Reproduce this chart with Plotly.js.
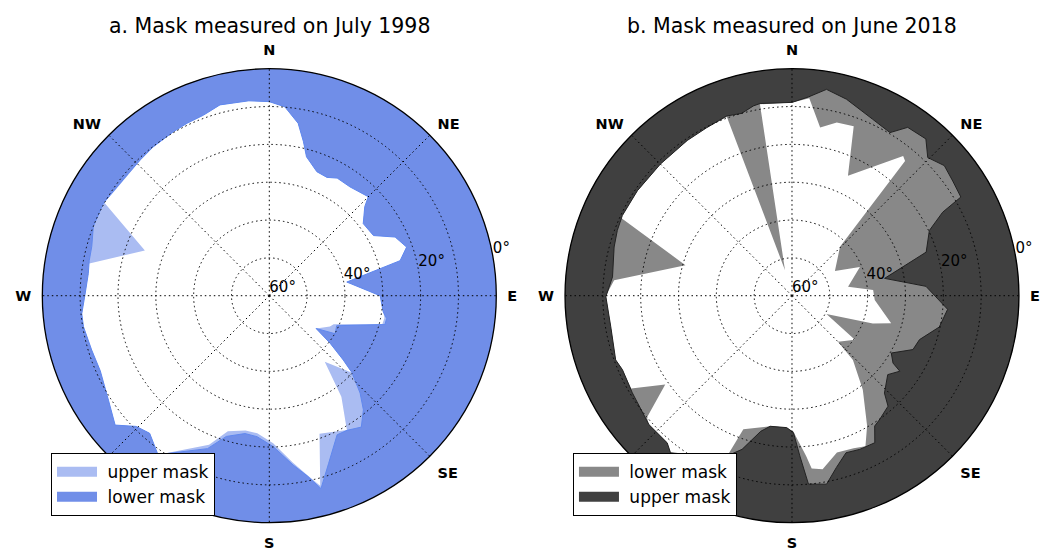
<!DOCTYPE html>
<html><head><meta charset="utf-8">
<script src="https://cdn.plot.ly/plotly-3.0.1.min.js"></script>
<style>html,body{margin:0;padding:0;background:#fff}#chart{width:1041px;height:552px}</style>
</head><body><div id="chart"></div>
<script>
// ---- Panel a: mask measured on July 1998 (azimuth deg clockwise from N, elevation deg) ----
const azA_upper = [0, 4.7, 9.5, 12.5, 15, 21, 26, 30, 36.5, 45, 47, 52.5, 60, 65, 70.5, 75, 80, 90, 98, 101, 104, 114, 117, 125, 128, 131, 133, 140, 144.5, 150, 160, 165, 168, 172, 178.5, 185, 190, 197, 202, 215, 221, 225.5, 230, 237, 246, 253, 260.5, 264.5, 270.5, 277, 280, 290, 299.5, 303, 311, 316.5, 322, 329.5, 334.5, 340, 345.5, 354];
const elA_upper = [8.7, 9.9, 13.8, 18.3, 22.0, 24.9, 25.2, 24.1, 24.2, 23.0, 25.5, 28.7, 28.2, 23.3, 21.5, 24.2, 39.2, 30.7, 29.6, 29.0, 29.2, 41.4, 42.0, 44.9, 39.6, 34.1, 30.1, 37.2, 27.2, 19.0, 21.2, 8.0, 11.5, 15.5, 21.0, 23.5, 23.8, 22.5, 17.5, 8.7, 11.8, 10.7, 6.8, 9.3, 11.1, 10.9, 10.2, 10.2, 11.3, 11.8, 11.4, 25.0, 9.8, 10.5, 10.9, 10.5, 10.1, 9.8, 9.5, 9.2, 7.9, 8.2];
const azA_lower = [0, 4.7, 9.5, 12.5, 15, 21, 26, 30, 36.5, 45, 47, 52.5, 60, 65, 70.5, 75, 80, 90, 98, 101, 104, 114, 120, 125, 128, 131, 133, 137, 140.5, 145, 150, 154, 160.5, 165, 168, 172, 178.5, 185, 190, 197, 202, 215, 221, 225.5, 230, 237, 246, 253, 260.5, 264.5, 270.5, 277, 281, 285.5, 291.5, 299, 303, 311, 316.5, 322, 329.5, 334.5, 340, 345.5, 354];
const elA_lower = [8.7, 9.9, 13.8, 18.3, 22.0, 24.9, 25.2, 24.1, 24.2, 23.0, 25.5, 28.7, 28.2, 23.3, 21.5, 24.2, 39.2, 30.7, 29.6, 28.4, 28.5, 40.5, 39.9, 44.9, 39.6, 34.1, 30.1, 24.8, 20.9, 17.6, 18.9, 19.1, 13.0, 7.2, 11.2, 14.8, 20.1, 22.6, 23.0, 21.1, 16.4, 8.7, 11.8, 10.7, 6.8, 9.3, 11.1, 10.9, 10.2, 10.2, 11.3, 11.8, 11.5, 11.3, 10.0, 9.8, 10.3, 10.7, 10.5, 10.1, 9.8, 9.5, 9.2, 7.9, 8.2];

// ---- Panel b: mask measured on June 2018 ----
const azB_lower = [0, 5, 9.5, 14.5, 20, 25, 38.5, 40, 44.5, 60, 67, 81, 86, 93, 105.5, 109, 118, 125, 135, 136.5, 143, 150, 154, 158, 164, 170, 173.5, 175, 179.5, 182.5, 189.5, 200, 202, 217.7, 220.3, 228, 230, 235, 240, 246.5, 250, 260.5, 270, 275, 286, 294.5, 304, 315, 326, 333, 340, 344.7, 350.5];
const elB_lower = [8.9, 7.6, 14.9, 12.7, 12.3, 25.0, 12.8, 13.5, 41.9, 46.9, 40.5, 45.0, 38.5, 38.1, 32.8, 37.4, 49.7, 39.7, 42.8, 36.6, 28.9, 20.3, 15.7, 16.5, 16.9, 13.4, 14.0, 17.5, 24.2, 25.1, 25.0, 22.4, 14.3, 7.5, 9.0, 9.1, 9.95, 19.1, 10.9, 11.1, 10.4, 11.4, 10.8, 12.8, 30.7, 10.2, 10.6, 10.8, 10.5, 10.2, 9.7, 53.0, 8.7];
const azB_upper = [0, 4.7, 9.5, 15.5, 24.5, 31, 34.5, 40.5, 44.5, 49.5, 54.5, 59.7, 61, 64.6, 72, 79.4, 86, 95, 102, 109, 114, 120, 123.7, 125, 129.5, 136.5, 139, 144.7, 147.6, 150.6, 156.2, 161, 165.5, 169.6, 175, 177.2, 179.4, 182.3, 189.5, 193, 198, 203, 217.7, 220.3, 228, 238.7, 246.4, 250, 260.3, 269.7, 276, 285.3, 290.5, 295.3, 304.2, 315, 326, 333, 340, 344.6, 348.5, 350.6];
const elB_upper = [8.9, 7.3, 4.7, 6.1, 8.7, 9.7, 6.0, 5.5, 8.8, 7.05, 7.8, 8.3, 14.45, 19.8, 22.7, 35.1, 24.5, 18.7, 20.2, 24.35, 25.0, 29.7, 27.9, 25.2, 27.2, 24.5, 21.3, 19.9, 19.2, 15.4, 15.6, 16.1, 13.1, 9.35, 10.0, 17.6, 23.8, 25.1, 25.0, 23.2, 17.3, 13.5, 7.5, 9.0, 9.1, 10.6, 11.1, 10.4, 11.4, 10.8, 12.3, 11.25, 10.7, 10.4, 10.6, 10.8, 10.5, 10.2, 9.45, 10.0, 8.8, 8.5];

// ---- axes / labels ----
const compassVals = [0, 45, 90, 135, 180, 225, 270, 315];
const compassText = ['N', 'NE', 'E', 'SE', 'S', 'SW', 'W', 'NW'];
const ringVals = [10, 20, 30, 40, 50];
const rLabelVals = [60, 40, 20, 0];
const rLabelText = ['60°', '40°', '20°', '0°'];
const titles = ['a. Mask measured on July 1998', 'b. Mask measured on June 2018'];

const FONT = 'DejaVu Sans, Liberation Sans, sans-serif';
const BEYOND = -3;      // elevation just below the horizon (outside the clip circle)
const RLABEL_AZ = 80;   // azimuth of the radial labels
const NB = '\u00a0';

function maskFill(az, el, color, subplot) {
  const th = az.concat([az[0] + 360, az[0] + 360]);
  const r = el.concat([el[0], BEYOND]);
  for (let i = az.length - 1; i >= 0; i--) { th.push(az[i]); r.push(BEYOND); }
  return {type: 'scatterpolar', mode: 'lines', theta: th, r: r, fill: 'toself',
    fillcolor: color, line: {width: 0, color: color}, showlegend: false,
    subplot: subplot, hoverinfo: 'skip'};
}
function maskLine(az, el, color, subplot) {
  return {type: 'scatterpolar', mode: 'lines', theta: az.concat([az[0] + 360]),
    r: el.concat([el[0]]), line: {width: 1, color: color}, showlegend: false,
    subplot: subplot, hoverinfo: 'skip'};
}
function legendEntry(name, color, subplot, legend) {
  return {type: 'scatterpolar', mode: 'lines', theta: [null], r: [null], name: NB + name,
    line: {width: 10, color: color}, subplot: subplot, legend: legend, hoverinfo: 'skip'};
}
function rLabels(subplot) {
  return {type: 'scatterpolar', mode: 'text', r: rLabelVals,
    theta: rLabelVals.map(() => RLABEL_AZ), text: rLabelText, textposition: 'top right',
    textfont: {family: FONT, size: 15, color: '#000'}, cliponaxis: false,
    showlegend: false, subplot: subplot, hoverinfo: 'skip'};
}

const colA_upper = '#aabcf2', colA_lower = '#708ee8';
const colB_lower = '#888888', colB_upper = '#404040';

const data = [
  maskFill(azA_upper, elA_upper, colA_upper, 'polar'),
  maskFill(azA_lower, elA_lower, colA_lower, 'polar'),
  maskLine(azA_lower, elA_lower, '#6088ee', 'polar'),
  legendEntry('upper mask', colA_upper, 'polar', 'legend'),
  legendEntry('lower mask', colA_lower, 'polar', 'legend'),
  rLabels('polar2'),
  maskFill(azB_lower, elB_lower, colB_lower, 'polar3'),
  maskFill(azB_upper, elB_upper, colB_upper, 'polar3'),
  maskLine(azB_upper, elB_upper, '#222222', 'polar3'),
  legendEntry('lower mask', colB_lower, 'polar3', 'legend2'),
  legendEntry('upper mask', colB_upper, 'polar3', 'legend2'),
  rLabels('polar4')
];

const domY = [0.0531, 0.8755];
const domA = {x: [0.0406, 0.4768], y: domY};
const domB = {x: [0.5418, 0.9798], y: domY};
const DOTS = '1.5px,3px';

function baseAxes(dom) {
  return {domain: dom, bgcolor: '#ffffff',
    radialaxis: {range: [60, 0], visible: false},
    angularaxis: {rotation: 90, direction: 'clockwise', visible: false}};
}
function gridAxes(dom) {
  return {domain: dom, bgcolor: 'rgba(0,0,0,0)',
    radialaxis: {range: [60, 0], tickmode: 'array', tickvals: ringVals, showticklabels: false,
      ticks: '', showline: false, showgrid: true, gridcolor: '#000', griddash: DOTS, gridwidth: 1},
    angularaxis: {rotation: 90, direction: 'clockwise', tickmode: 'array', tickvals: compassVals,
      ticktext: compassText, tickfont: {family: FONT, size: 14.5, weight: 'bold', color: '#000'},
      ticks: 'outside', ticklen: 7.5, tickcolor: 'rgba(0,0,0,0)', showgrid: true, gridcolor: '#000',
      griddash: DOTS, gridwidth: 1, showline: true, linecolor: '#000', linewidth: 1.3}};
}
function legendBox(x) {
  return {x: x, y: 0.179, xanchor: 'left', yanchor: 'top', bgcolor: '#fff', bordercolor: '#000',
    borderwidth: 1, font: {family: FONT, size: 17, color: '#000'}, itemwidth: 40, tracegroupgap: 0};
}

const layout = {
  width: 1041, height: 552, margin: {l: 0, r: 0, t: 0, b: 0},
  paper_bgcolor: '#fff', font: {family: FONT, color: '#000'},
  polar: baseAxes(domA), polar2: gridAxes(domA),
  polar3: baseAxes(domB), polar4: gridAxes(domB),
  legend: legendBox(0.049), legend2: legendBox(0.5504),
  annotations: [
    {text: titles[0], x: 0.2587, y: 0.953, xref: 'paper', yref: 'paper', xanchor: 'center', yanchor: 'middle', showarrow: false, font: {family: FONT, size: 20.5, color: '#000'}},
    {text: titles[1], x: 0.7608, y: 0.953, xref: 'paper', yref: 'paper', xanchor: 'center', yanchor: 'middle', showarrow: false, font: {family: FONT, size: 20.5, color: '#000'}}
  ]
};

Plotly.newPlot('chart', data, layout, {displayModeBar: false, staticPlot: true});
</script>
</body></html>
